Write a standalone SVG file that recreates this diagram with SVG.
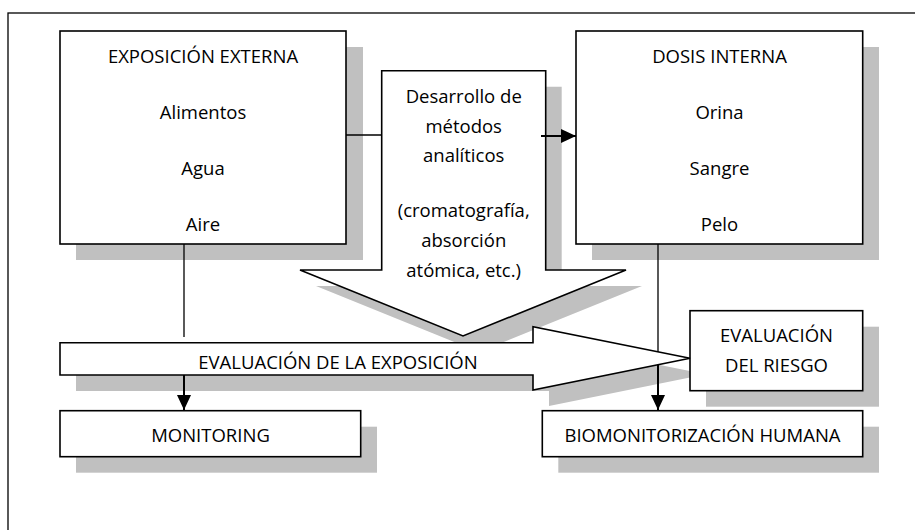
<svg xmlns="http://www.w3.org/2000/svg" width="915" height="530" viewBox="0 0 915 530">
<style>
.box{fill:#fff;stroke:#000;stroke-width:1.6}
.sh{fill:#c0c0c0}
.t{font-family:"Open Sans","Liberation Sans",sans-serif;font-size:18.5px;fill:#000;text-anchor:middle}
.ln{fill:none;stroke:#000;stroke-width:1.3}
.ar{fill:none;stroke:#000;stroke-width:2}
</style>
<defs>
<marker id="ah" markerUnits="userSpaceOnUse" markerWidth="16" markerHeight="14" refX="15" refY="7" orient="auto">
<path d="M0,0 L15,7 L0,14 Z" fill="#000"/>
</marker>
</defs>
<rect x="8" y="13" width="1000" height="1000" fill="#fff" stroke="#000" stroke-width="1.3"/>
<g id="shadows">
<rect class="sh" x="76" y="47" width="287" height="213"/>
<rect class="sh" x="592" y="47" width="287" height="213"/>
<polygon class="sh" points="397.7,86.7 561.7,86.7 561.7,286 642,286 479,352 316,286 397.7,286"/>
<polygon class="sh" points="76,358.7 549,358.7 549,342.7 706,374.3 549,406 549,391 76,391"/>
<rect class="sh" x="706" y="326.7" width="173" height="80"/>
<rect class="sh" x="76" y="426.7" width="301" height="46"/>
<rect class="sh" x="558.3" y="426.7" width="320.7" height="46"/>
</g>
<g id="exposicion-externa">
<rect class="box" x="60" y="31" width="286" height="213"/>
<text class="t" x="203" y="62.5">EXPOSICIÓN EXTERNA</text>
<text class="t" x="203" y="118.8">Alimentos</text>
<text class="t" x="203" y="175">Agua</text>
<text class="t" x="203" y="231.3">Aire</text>
</g>
<g id="dosis-interna">
<rect class="box" x="576" y="31" width="286.7" height="213"/>
<text class="t" x="719.5" y="62.5">DOSIS INTERNA</text>
<text class="t" x="719.5" y="118.8">Orina</text>
<text class="t" x="719.5" y="175">Sangre</text>
<text class="t" x="719.5" y="231.3">Pelo</text>
</g>
<g id="desarrollo-metodos">
<polygon class="box" points="381.7,70.7 545.7,70.7 545.7,270 626,270 463,336 300,270 381.7,270"/>
<text class="t" x="463.7" y="103.3">Desarrollo de</text>
<text class="t" x="463.7" y="132.7">métodos</text>
<text class="t" x="463.7" y="161.7">analíticos</text>
<text class="t" x="463.7" y="216.7">(cromatografía,</text>
<text class="t" x="463.7" y="246.7">absorción</text>
<text class="t" x="463.7" y="276.7">atómica, etc.)</text>
</g>
<g id="monitoring">
<rect class="box" x="60" y="410.7" width="300.7" height="46"/>
<text class="t" x="210.5" y="441.7">MONITORING</text>
</g>
<g id="biomonitorizacion">
<rect class="box" x="542.3" y="410.7" width="320.4" height="46"/>
<text class="t" x="702.5" y="441.7">BIOMONITORIZACIÓN HUMANA</text>
</g>
<g id="evaluacion-riesgo">
<rect class="box" x="690" y="310.7" width="172.7" height="80"/>
<text class="t" x="776.5" y="341.7">EVALUACIÓN</text>
<text class="t" x="776.5" y="371.7">DEL RIESGO</text>
</g>
<g id="connectors">
<line class="ln" x1="346" y1="135" x2="381.7" y2="135"/>
<line class="ar" x1="541" y1="136" x2="576" y2="136" marker-end="url(#ah)"/>
<line class="ln" x1="184" y1="244" x2="184" y2="337"/>
<line class="ar" x1="184" y1="375" x2="184" y2="410" marker-end="url(#ah)"/>
<line class="ln" x1="658" y1="244" x2="658" y2="356"/>
<line class="ar" x1="658" y1="355" x2="658" y2="410" marker-end="url(#ah)"/>
</g>
<g id="evaluacion-exposicion">
<polygon class="box" points="60,342.7 533,342.7 533,326.7 690,358.3 533,390 533,375 60,375"/>
<text class="t" x="338" y="369">EVALUACIÓN DE LA EXPOSICIÓN</text>
</g>
</svg>
